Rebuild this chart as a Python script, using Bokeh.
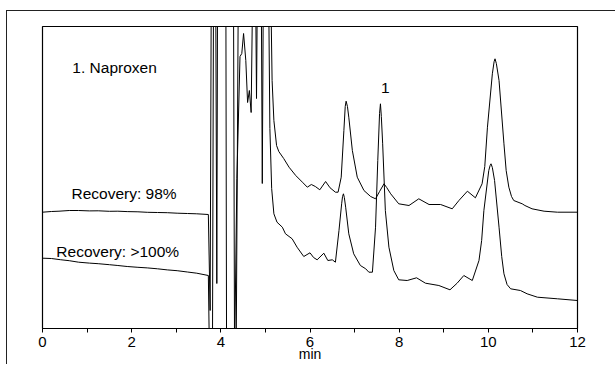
from bokeh.plotting import figure
from bokeh.models import Range1d, FixedTicker, Label
from bokeh.embed import file_html
from bokeh.resources import INLINE

# ---- data (time in min, detector signal in arbitrary units) ----
t_upper = [0.00, 0.20, 0.37, 0.60, 0.81, 1.05, 1.25, 1.50, 1.69, 1.90, 2.14, 2.35, 2.58, 2.80,
           3.02, 3.25, 3.46, 3.72, 3.76, 3.79, 3.88, 3.91, 3.93, 4.11, 4.13, 4.30, 4.36, 4.43,
           4.47, 4.51, 4.56, 4.60, 4.64, 4.68, 4.73, 4.79, 5.10, 5.15, 5.19, 5.25, 5.30, 5.41,
           5.53, 5.68, 5.83, 5.94, 6.03, 6.12, 6.22, 6.35, 6.45, 6.57, 6.63, 6.70, 6.76, 6.79,
           6.81, 6.84, 6.87, 6.95, 7.06, 7.21, 7.36, 7.47, 7.56, 7.66, 7.72, 7.81, 7.99, 8.22,
           8.44, 8.67, 8.93, 9.19, 9.34, 9.53, 9.71, 9.86, 9.92, 9.98, 10.09, 10.13, 10.15,
           10.18, 10.24, 10.35, 10.40, 10.46, 10.52, 10.57, 10.76, 10.82, 10.98, 11.25, 11.55,
           12.00]
s_upper = [116.3, 117.0, 117.3, 118.0, 118.0, 117.6, 117.7, 117.2, 117.3, 116.9, 116.7, 116.2,
           116.0, 115.8, 115.3, 115.0, 114.7, 114.0, 18, 400, 400, 45, 400, 400, -60, -60, 150,
           272, 275, 295, 268, 226, 238, 216, 400, 400, 400, 248, 208, 183, 177, 170,
           161.3, 153, 146.3, 141.3, 144, 142, 138.7, 147, 140.7, 136.3, 136.3, 151.3, 198, 222,
           227.3, 222, 211.3, 178, 151.3, 138, 132, 129.7, 137, 144.7, 141, 134.7, 124.7, 123,
           129.7, 124, 124, 119.7, 128, 137.3, 130.7, 144.7, 162, 201.3, 254.7, 267, 269.7,
           265, 248, 184.7, 158, 141.3, 132, 128, 124.7, 123, 119.7, 117.3, 116.3,
           116.3]

t_lower = [0.00, 0.20, 0.40, 0.60, 0.81, 1.05, 1.25, 1.50, 1.69, 1.90, 2.14, 2.35, 2.58, 2.80,
           3.02, 3.25, 3.46, 3.72, 3.755, 3.81, 3.84, 4.28, 4.31, 4.34, 4.40, 4.77, 4.80, 4.83,
           4.90, 4.93, 4.96, 5.06, 5.10, 5.14, 5.19, 5.26, 5.38, 5.45, 5.60, 5.71, 5.86, 6.00,
           6.08, 6.16, 6.31, 6.40, 6.50, 6.57, 6.65, 6.71, 6.73, 6.75, 6.77, 6.80, 6.87, 6.98,
           7.13, 7.25, 7.32, 7.40, 7.47, 7.52, 7.56, 7.58, 7.60, 7.63, 7.69, 7.77, 7.88, 7.99,
           8.18, 8.39, 8.59, 8.89, 9.14, 9.30, 9.45, 9.64, 9.79, 9.85, 9.90, 10.01, 10.04, 10.06,
           10.09, 10.14, 10.24, 10.30, 10.35, 10.42, 10.50, 10.72, 10.87, 11.10, 11.55, 12.00]
s_lower = [70.3, 70.0, 68.8, 67.8, 66.3, 65.4, 64.8, 63.8, 63.0, 62.0, 61.2, 60.6, 59.7, 58.6,
           57.8, 56.5, 55.3, 53.0, -60, -60, 400, 400, -60, -60, 400, 400, 230, 400,
           400, 145, 400, 400, 200, 140, 114.7, 106.3, 101.3, 94.7, 89.7, 81.3, 72.0, 75.7,
           71, 68.7, 75.3, 68.0, 68.7, 66.3, 98, 124.7, 132, 134.7, 131, 121.3, 94.7, 74.7,
           63.0, 59.7, 56.3, 56.3, 101.3, 168, 215, 224.7, 212, 184.7, 118, 81.3, 58, 48.7,
           48, 50.7, 45.3, 43, 38.7, 45.3, 53, 48, 68, 88, 118, 158, 163, 164.7,
           161, 148, 101.3, 72, 54.7, 44, 39.7, 38, 34.7, 31.3, 29.7, 28]

x_ticks = [0, 2, 4, 6, 8, 10, 12]
x_minor = [1, 3, 5, 7, 9, 11]

FONT = "Liberation Sans"

p = figure(width=609, height=354, output_backend="svg", toolbar_location=None,
           x_range=Range1d(0, 12), y_range=Range1d(0, 302),
           y_axis_location=None, min_border_left=35, min_border_right=39,
           min_border_top=15, min_border_bottom=37)
p.styles = {"margin-left": "6px", "margin-top": "10px",
            "border-top": "1px solid #222", "border-left": "1px solid #222"}
p.background_fill_color = "white"
p.border_fill_color = "white"
p.grid.visible = False
p.outline_line_color = "black"
p.outline_line_width = 1.2

ax = p.xaxis[0]
ax.ticker = FixedTicker(ticks=x_ticks, minor_ticks=x_minor)
ax.axis_line_color = "black"
ax.major_tick_line_color = "black"
ax.minor_tick_line_color = "black"
ax.major_tick_in = 0
ax.major_tick_out = 4
ax.minor_tick_in = 0
ax.minor_tick_out = 4
ax.major_label_standoff = 4
ax.major_label_text_font = FONT
ax.major_label_text_font_size = "15px"
ax.major_label_text_color = "black"
ax.axis_label = "min"
ax.axis_label_standoff = -4
ax.axis_label_text_font = FONT
ax.axis_label_text_font_size = "14px"
ax.axis_label_text_font_style = "normal"
ax.axis_label_text_color = "black"

p.line(t_upper, s_upper, line_color="black", line_width=1)
p.line(t_lower, s_lower, line_color="black", line_width=1)

def lab(x, y, text, align="left", baseline="middle", size="15.5px"):
    p.add_layout(Label(x=x, y=y, text=text, text_align=align, text_baseline=baseline,
                       text_font=FONT, text_font_size=size, text_color="black"))

lab(0.67, 261, "1. Naproxen")
lab(0.65, 135.5, "Recovery: 98%")
lab(0.31, 77, "Recovery: >100%")
lab(7.69, 240.5, "1", align="center")

open("out.html", "w").write(file_html(p, INLINE))
